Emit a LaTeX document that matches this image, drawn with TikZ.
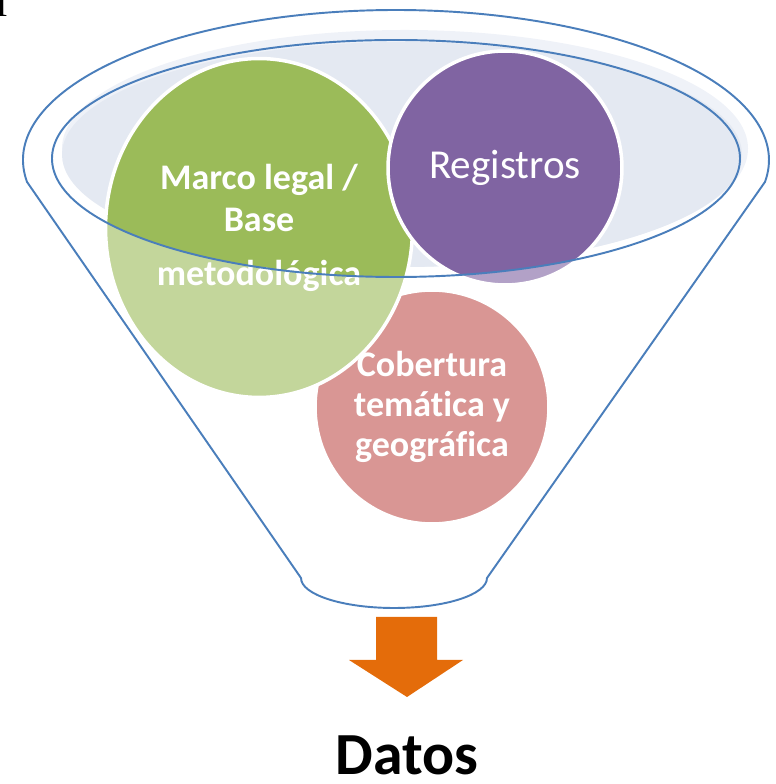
\documentclass[tikz,border=0pt]{standalone}
\usepackage{fontspec}
\setmainfont[Ligatures=NoCommon]{Carlito}
\newfontfamily\serifcut{Liberation Serif}
\usetikzlibrary{positioning,shapes.geometric}

\definecolor{funnelblue}{HTML}{4A7EBB}
\definecolor{rimfill}{HTML}{E4E9F2}
\definecolor{rimhalo}{HTML}{EFF2F8}
\definecolor{greendark}{HTML}{9BBB59}
\definecolor{greenlite}{HTML}{C3D69B}
\definecolor{purpledark}{HTML}{8064A2}
\definecolor{purplelite}{HTML}{B2A1C7}
\definecolor{pinklite}{HTML}{D99694}
\definecolor{arroworange}{HTML}{E46C0A}

\tikzset{
  funnel/.style={draw=funnelblue, line width=1.1pt},
  bubble/.style={circle, draw=white, line width=2pt, inner sep=0pt, text=white, align=center},
  rimpart/.style={path picture={\fill[#1] (rim) ellipse [x radius=344, y radius=118.5];}},
  boldlabel/.style={font=\fontsize{20.5}{23.5}\selectfont\bfseries},
}

\begin{document}
\begin{tikzpicture}[x=0.02cm, y=0.02cm]
  \useasboundingbox (0,0) rectangle (775,784);
  % cut glyph in the corner
  \node[anchor=base west, inner sep=0pt, font=\serifcut\fontsize{23}{23}\selectfont] (corner) at (-4,767) {l};
  % mouth of the funnel
  \coordinate (rim) at (396,625.5);
  \fill[rimhalo] (405,635.5) ellipse [x radius=343, y radius=118.5];
  \fill[rimfill] (402,629.5) ellipse [x radius=340, y radius=112.5];
  % the three bubbles
  \node[bubble, fill=pinklite, minimum size=4.68cm, boldlabel,
        font=\fontsize{20.5}{22.7}\selectfont\bfseries] (cobertura) at (432,377)
        {Cobertura\\temática y\\geográfica};
  \node[bubble, ellipse, fill=greenlite, rimpart=greendark, minimum width=6.14cm,
        minimum height=6.78cm, boldlabel, font=\fontsize{20.5}{24}\selectfont\bfseries] (marco) at (259,556)
        {Marco legal /\\Base\\[7pt]metodológica};
  \node[bubble, fill=purplelite, rimpart=purpledark, minimum size=4.68cm,
        font=\fontsize{23.4}{28}\selectfont] (registros) at (505,616) {Registros};
  % rim line over the bubbles
  \draw[funnel] (rim) ellipse [x radius=344, y radius=118.5];
  % body of the funnel
  \draw[funnel] ([shift={(188.43:373 and 150)}]396,624)
    arc[start angle=188.43, end angle=-8.43, x radius=373, y radius=150]
    -- (487,206) arc[start angle=0, end angle=-180, x radius=93, y radius=30] -- cycle;
  % output arrow
  \fill[arroworange] (376,167) -- (437,167) -- (437,124) -- (463,124) -- (407,87)
    -- (349,124) -- (376,124) -- cycle;
  \node[anchor=base, inner sep=0pt, font=\fontsize{34}{40}\selectfont\bfseries] (datos) at (407,10) {Datos};
\end{tikzpicture}
\end{document}
